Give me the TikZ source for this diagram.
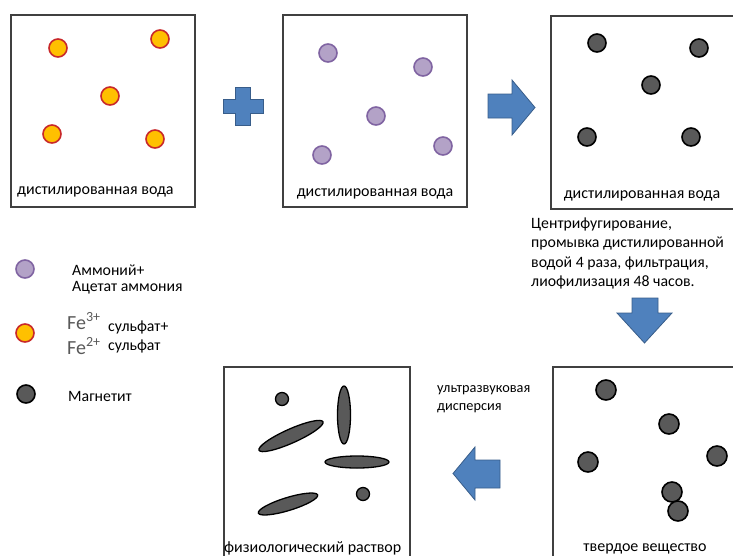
\documentclass[tikz,border=0pt]{standalone}
\usepackage{fontspec}
\setmainfont{Carlito}
\definecolor{feFill}{HTML}{FFC000}
\definecolor{feLine}{HTML}{C8282A}
\definecolor{amFill}{HTML}{B3A2C7}
\definecolor{amLine}{HTML}{8064A2}
\definecolor{mgFill}{HTML}{595959}
\definecolor{blueFill}{HTML}{4F81BD}
\definecolor{blueLine}{HTML}{385D8A}
\definecolor{boxLine}{HTML}{404040}
\definecolor{feText}{HTML}{595959}
\tikzset{
  panel/.style={draw=boxLine, line width=2.4pt},
  fe/.style={circle, draw=feLine, fill=feFill, line width=1.6pt, minimum size=18pt, inner sep=0pt},
  am/.style={circle, draw=amLine, fill=amFill, line width=1.6pt, minimum size=18pt, inner sep=0pt},
  mg/.style={circle, draw=black, fill=mgFill, line width=1.6pt, minimum size=18pt, inner sep=0pt},
  mgbig/.style={mg, minimum size=20pt},
  mgsmall/.style={mg, minimum size=13pt, line width=1.3pt},
  rod/.style={draw=black, fill=mgFill, line width=1.3pt},
  blockarrow/.style={draw=blueLine, fill=blueFill, line width=0.8pt},
  lbl/.style={inner sep=0pt, font=\fontsize{16}{19}\selectfont},
  lgd/.style={inner sep=0pt, anchor=west, font=\fontsize{15.8}{19}\selectfont},
}
\begin{document}
\begin{tikzpicture}[x=1pt,y=-1pt]
\useasboundingbox (0,0) rectangle (733,555);
\clip (0,0) rectangle (733,555);
% panels
\draw[panel] (11,15) rectangle (195,207);
\draw[panel] (283,15) rectangle (467,207);
\draw[panel] (551,16) rectangle (740,209);
\draw[panel] (224,367) rectangle (410,565);
\draw[panel] (553,367) rectangle (745,565);
% panel 1
\node[fe] (f1) at (58,48) {};
\node[fe] (f2) at (160,39) {};
\node[fe] (f3) at (110,96) {};
\node[fe] (f4) at (52,134) {};
\node[fe] (f5) at (155,139) {};
\node[lbl, anchor=west] (t1) at (17,192) {дистилированная вода};
% plus
\draw[blockarrow] (235.5,87) -- (250.5,87) -- (250.5,99) -- (263,99) -- (263,113) -- (250.5,113) -- (250.5,125) -- (235.5,125) -- (235.5,113) -- (223,113) -- (223,99) -- (235.5,99) -- cycle;
% panel 2
\node[am] (a1) at (328,53) {};
\node[am] (a2) at (423,67) {};
\node[am] (a3) at (376,116) {};
\node[am] (a4) at (322,155) {};
\node[am] (a5) at (443,146) {};
\node[lbl] (t2) at (375,194) {дистилированная вода};
% right arrow
\draw[blockarrow] (488,94) -- (512,94) -- (512,80) -- (535,107.5) -- (512,135) -- (512,118) -- (488,118) -- cycle;
% panel 3
\node[mg] (m1) at (597,43) {};
\node[mg] (m2) at (699,48) {};
\node[mg] (m3) at (651,85) {};
\node[mg] (m4) at (587,137) {};
\node[mg] (m5) at (691,137) {};
\node[lbl] (t3) at (642,196) {дистилированная вода};
% description
\node[lgd] (d1) at (531,224) {Центрифугирование,};
\node[lgd] (d2) at (531,243.5) {промывка дистилированной};
\node[lgd] (d3) at (531,263) {водой 4 раза, фильтрация,};
\node[lgd] (d4) at (531,282.5) {лиофилизация 48 часов.};
% down arrow
\draw[blockarrow] (632,298) -- (658,298) -- (658,313) -- (672,313) -- (644.5,343) -- (617,313) -- (632,313) -- cycle;
% legend
\node[am] (la) at (25,269) {};
\node[lgd] (la1) at (72,270) {Аммоний+};
\node[lgd] (la2) at (72,288) {Ацетат аммония};
\node[fe] (lf) at (25,333) {};
\node[lgd, text=feText, font=\fontsize{20}{22}\selectfont] (lf1) at (67,321) {Fe\textsuperscript{3+}};
\node[lgd] (lf2) at (108,327) {сульфат+};
\node[lgd, text=feText, font=\fontsize{20}{22}\selectfont] (lf3) at (67,346) {Fe\textsuperscript{2+}};
\node[lgd] (lf4) at (108,346) {сульфат};
\node[mg] (lm) at (26,394) {};
\node[lgd] (lm1) at (68,396) {Магнетит};
% panel 4 (bottom left)
\node[mgsmall] (s1) at (282,399) {};
\node[mgsmall] (s2) at (363,494) {};
\draw[rod, rotate around={24:(291,436)}] (291,436) ellipse [x radius=35pt, y radius=7pt];
\draw[rod] (344,415) ellipse [x radius=6.5pt, y radius=29pt];
\draw[rod] (357,462) ellipse [x radius=32pt, y radius=6pt];
\draw[rod, rotate around={17:(288,504)}] (288,504) ellipse [x radius=31pt, y radius=6.5pt];
\node[lbl, anchor=west] (t4) at (224,548) {физиологический раствор};
% text and left arrow
\node[lgd, font=\fontsize{14.3}{17}\selectfont] (u1) at (437,390) {ультразвуковая};
\node[lgd, font=\fontsize{14.3}{17}\selectfont] (u2) at (437,408) {дисперсия};
\draw[blockarrow] (500,460) -- (475,460) -- (475,447) -- (453,473.5) -- (475,500) -- (475,488) -- (500,488) -- cycle;
% panel 5 (bottom right)
\node[mgbig] (b1) at (606,390) {};
\node[mgbig] (b2) at (669,424) {};
\node[mgbig] (b3) at (588,462) {};
\node[mgbig] (b4) at (717,456) {};
\node[mgbig] (b5) at (672,492) {};
\node[mgbig] (b6) at (678,511) {};
\node[lbl] (t5) at (645,549) {твердое вещество};
\end{tikzpicture}
\end{document}
